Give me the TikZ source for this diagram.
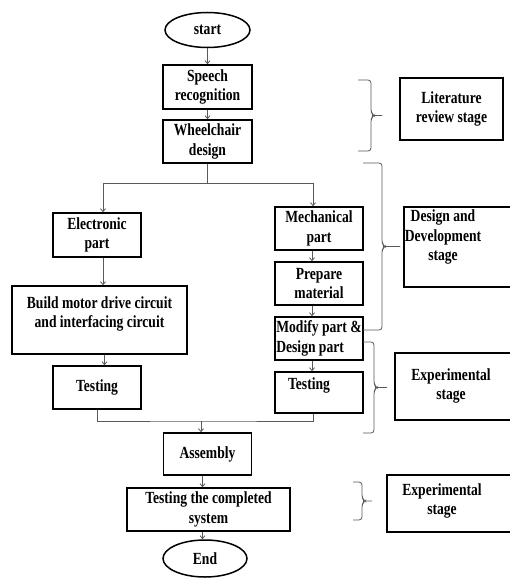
\documentclass[tikz,border=0pt]{standalone}
\usepackage{fontspec}
\setmainfont{Liberation Serif}[FakeStretch=0.8]
\usetikzlibrary{positioning,shapes.geometric,arrows.meta,calc}

\begin{document}
\begin{tikzpicture}[
    x=1pt, y=-1pt,
    font=\bfseries\fontsize{17}{19.5}\selectfont,
    box/.style={draw, line width=1.5pt, rectangle, align=center, inner sep=1pt,
        minimum width=88pt, minimum height=43pt},
    oval/.style={draw, line width=1.5pt, ellipse, inner sep=0pt,
        minimum width=85pt, minimum height=35pt},
    flow/.style={draw=black!65, line width=0.8pt},
    arr/.style={flow, -{Straight Barb[length=3pt,width=5pt]}},
    bracket/.style n args={2}{draw=black!65, line width=0.8pt, rounded corners=3pt,
        to path={-- ++(#1,0)
            -- ($(\tikztostart)!0.5!(\tikztotarget)+(#1,-3)$)
            -- ($(\tikztostart)!0.5!(\tikztotarget)+(#1+3,0)$)
            -- ($(\tikztostart)!0.5!(\tikztotarget)+(#1,3)$)
            -- ($(\tikztotarget)+(#1,0)$) -- (\tikztotarget)
            ($(\tikztostart)!0.5!(\tikztotarget)+(#1+3,0)$) -- ++(#2,0)}}
]
    \useasboundingbox (0,0) rectangle (509,578);

    % Main column:
    \node[oval] (start) at (207.5,30) {start};
    \node[box, minimum width=89pt, minimum height=44pt] (speech) at (207.5,87) {Speech\\recognition};
    \node[box, minimum width=89pt] (wheel) at (207.5,141.5) {Wheelchair\\design};

    % Electronic side
    \node[box, minimum height=44pt] (elec) at (97,235) {Electronic\\part};
    \node[box, minimum width=175pt, minimum height=68pt, text depth=16pt] (build) at (99.5,320) {Build motor drive circuit\\and interfacing circuit};
    \node[box] (testL) at (97,387.5) {Testing};

    % Mechanical side
    \node[box] (mech) at (319,228.5) {Mechanical\\part};
    \node[box] (prep) at (319,283.5) {Prepare\\material};
    \node[box, align=left] (modify) at (319,338.5) {Modify part \&\\Design part};
    \node[box, minimum height=41pt, text depth=18pt] (testR) at (319,392.5) {Testing\hspace*{20pt}};

    \node[box, minimum height=42pt] (assembly) at (207.5,454) {Assembly};
    \node[box, minimum width=163pt] (testsys) at (208.5,509.5) {Testing the completed\\system};
    \node[oval, minimum width=84pt, minimum height=37pt] (end) at (205,558.5) {End};

    % Stage boxes on the right
    \node[box, minimum width=103pt, minimum height=62pt] (litbox) at (451.5,109) {Literature\\review stage};
    \node[box, minimum width=130pt, minimum height=80pt] (designbox) at (469,247) {};
    \node[align=center] (designtxt) at (443,237) {Design and\\Development\\stage};
    \node[box, minimum width=130pt, minimum height=67pt] (expbox1) at (460,386.5) {};
    \node[align=center] (exptxt1) at (451,386) {Experimental\\stage};
    \node[box, minimum width=130pt, minimum height=57pt] (expbox2) at (452,503.5) {};
    \node[align=center] (exptxt2) at (442,501) {Experimental\\stage};

    \coordinate (split) at (207.5,183);
    \coordinate (merge) at (201,421);

    \draw[arr] (start) -- (speech);
    \draw[arr] (speech) -- (wheel);
    \draw[flow] (wheel) -- (split);
    \draw[arr] (split) -| ([xshift=6pt]elec.north);
    \draw[arr] (split) -| ([xshift=-6pt]mech.north);
    \draw[arr] ([xshift=6pt]elec.south) -- ([xshift=6pt]elec.south |- build.north);
    \draw[arr] ([xshift=5pt]build.south) -- ([xshift=5pt]build.south |- testL.north);
    \draw[arr] ([xshift=-7pt]mech.south) -- ([xshift=-7pt]prep.north);
    \draw[arr] ([xshift=-7pt]prep.south) -- ([xshift=-7pt]modify.north);
    \draw[arr] ([xshift=-7pt]modify.south) -- ([xshift=-7pt]testR.north);
    \draw[flow] (testL.south) |- (merge) -| ([xshift=-6pt]testR.south);
    \draw[arr] (merge) -- (merge |- assembly.north);
    \draw[arr] ([xshift=-5pt]assembly.south) -- ([xshift=-5pt]assembly.south |- testsys.north);
    \draw[arr] ([xshift=-6pt]testsys.south) -- ([xshift=-6pt]testsys.south |- end.north);

    % Brackets to the stages
    \coordinate (litTop) at (358,80);
    \coordinate (litBot) at (358,151);
    \coordinate (designTop) at (363,163);
    \coordinate (designBot) at (363,330);
    \coordinate (expTop) at (363,342);
    \coordinate (expBot) at (363,433);
    \coordinate (sysTop) at (353,482);
    \coordinate (sysBot) at (353,520);
    \path[bracket={13}{8}] (litTop) to (litBot);
    \path[bracket={19}{15}] (designTop) to (designBot);
    \path[bracket={11}{10}] (expTop) to (expBot);
    \path[bracket={9}{7}] (sysTop) to (sysBot);
\end{tikzpicture}
\end{document}
